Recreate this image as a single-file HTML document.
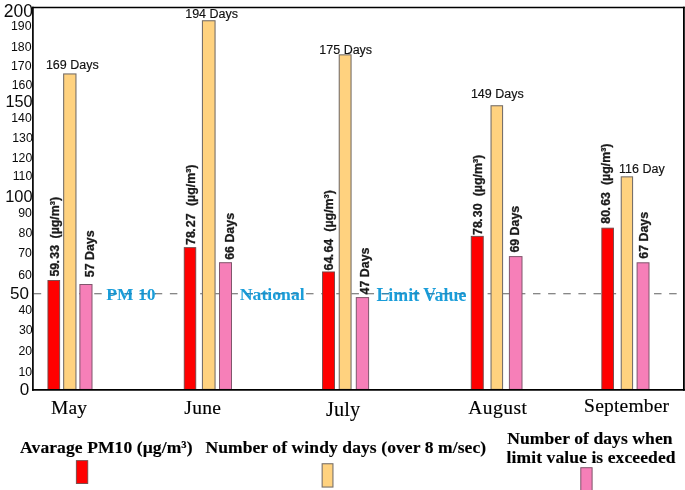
<!DOCTYPE html>
<html><head><meta charset="utf-8"><title>PM10 chart</title>
<style>html,body{margin:0;padding:0;background:#fff;overflow:hidden}svg{display:block;will-change:transform}text{font-family:"Liberation Sans", sans-serif;fill:#1a1a1a}.s{font-family:"Liberation Serif", serif}.k{fill:#0a0a0a}.t{fill:#111;stroke:#111;stroke-width:0.15px}.m{fill:#000;stroke:#000;stroke-width:0.15px}.b{font-weight:bold}.h{stroke:#1a1a1a;stroke-width:0.3px}</style></head><body>
<svg width="685" height="490" viewBox="0 0 685 490">
<rect x="0" y="0" width="685" height="490" fill="#ffffff"/>
<line x1="33.7" y1="293.75" x2="683" y2="293.75" stroke="#606060" stroke-width="1.2" stroke-dasharray="7.5 7.63"/>
<rect x="47.95" y="280.55" width="11.70" height="108.85" fill="#ff0000" stroke="#704848" stroke-width="0.90"/>
<rect x="63.65" y="73.95" width="12.30" height="315.45" fill="#ffd27f" stroke="#78706a" stroke-width="1.10"/>
<rect x="79.90" y="284.50" width="12.10" height="104.90" fill="#f67fb8" stroke="#80566c" stroke-width="1.00"/>
<rect x="184.25" y="247.65" width="11.50" height="141.75" fill="#ff0000" stroke="#704848" stroke-width="0.90"/>
<rect x="202.45" y="20.75" width="12.60" height="368.65" fill="#ffd27f" stroke="#78706a" stroke-width="1.10"/>
<rect x="219.50" y="262.70" width="12.00" height="126.70" fill="#f67fb8" stroke="#80566c" stroke-width="1.00"/>
<rect x="322.55" y="271.95" width="12.00" height="117.45" fill="#ff0000" stroke="#704848" stroke-width="0.90"/>
<rect x="339.25" y="54.85" width="11.80" height="334.55" fill="#ffd27f" stroke="#78706a" stroke-width="1.10"/>
<rect x="356.30" y="297.60" width="12.30" height="91.80" fill="#f67fb8" stroke="#80566c" stroke-width="1.00"/>
<rect x="471.25" y="236.35" width="12.00" height="153.05" fill="#ff0000" stroke="#704848" stroke-width="0.90"/>
<rect x="491.05" y="105.75" width="11.50" height="283.65" fill="#ffd27f" stroke="#78706a" stroke-width="1.10"/>
<rect x="509.40" y="256.60" width="12.60" height="132.80" fill="#f67fb8" stroke="#80566c" stroke-width="1.00"/>
<rect x="601.85" y="228.15" width="11.60" height="161.25" fill="#ff0000" stroke="#704848" stroke-width="0.90"/>
<rect x="621.25" y="176.85" width="11.30" height="212.55" fill="#ffd27f" stroke="#78706a" stroke-width="1.10"/>
<rect x="637.10" y="262.80" width="11.90" height="126.60" fill="#f67fb8" stroke="#80566c" stroke-width="1.00"/>
<path d="M32.9 6.85 V390.8" fill="none" stroke="#000" stroke-width="1.7"/>
<path d="M32.05 7.55 H684.8" fill="none" stroke="#000" stroke-width="1.4"/>
<path d="M683.9 6.85 V390.8" fill="none" stroke="#000" stroke-width="1.8"/>
<path d="M32.05 389.9 H684.8" fill="none" stroke="#000" stroke-width="1.8"/>
<text x="33.0" y="16.9" font-size="17.5" text-anchor="end" class="k">200</text>
<text x="32.6" y="107.1" font-size="16.3" text-anchor="end" class="k">150</text>
<text x="32.6" y="201.8" font-size="16.4" text-anchor="end" class="k">100</text>
<text x="28.9" y="298.9" font-size="17.0" text-anchor="end" class="k">50</text>
<text x="29.2" y="394.9" font-size="17.0" text-anchor="end" class="k">0</text>
<text x="31.5" y="30.4" font-size="12.3" text-anchor="end" class="k">190</text>
<text x="31.5" y="50.7" font-size="12.3" text-anchor="end" class="k">180</text>
<text x="31.5" y="69.9" font-size="12.3" text-anchor="end" class="k">170</text>
<text x="32.3" y="89.3" font-size="12.3" text-anchor="end" class="k">160</text>
<text x="31.8" y="122.0" font-size="12.3" text-anchor="end" class="k">140</text>
<text x="32.8" y="141.9" font-size="12.3" text-anchor="end" class="k">130</text>
<text x="32.3" y="161.9" font-size="12.3" text-anchor="end" class="k">120</text>
<text x="32.3" y="180.4" font-size="12.3" text-anchor="end" class="k">110</text>
<text x="31.9" y="217.4" font-size="12.3" text-anchor="end" class="k">90</text>
<text x="32.3" y="237.2" font-size="12.3" text-anchor="end" class="k">80</text>
<text x="31.9" y="257.2" font-size="12.3" text-anchor="end" class="k">70</text>
<text x="31.9" y="278.7" font-size="12.3" text-anchor="end" class="k">60</text>
<text x="32.1" y="314.3" font-size="12.3" text-anchor="end" class="k">40</text>
<text x="32.7" y="334.3" font-size="12.3" text-anchor="end" class="k">30</text>
<text x="32.1" y="354.8" font-size="12.3" text-anchor="end" class="k">20</text>
<text x="32.1" y="375.5" font-size="12.3" text-anchor="end" class="k">10</text>
<text x="45.9" y="68.8" font-size="12.5" class="t">169 Days</text>
<text x="185.2" y="17.8" font-size="12.5" class="t">194 Days</text>
<text x="319.3" y="53.8" font-size="12.5" class="t">175 Days</text>
<text x="470.9" y="98.1" font-size="12.5" class="t">149 Days</text>
<text x="619.1" y="172.8" font-size="12.5" class="t">116 Day</text>
<text transform="translate(59.4 276.6) rotate(-90) scale(1.000 1)" font-size="12.4" class="b h">59<tspan dx="-0.6">.</tspan><tspan dx="1.2">33</tspan></text>
<text transform="translate(59.4 238.5) rotate(-90) scale(1.000 1)" font-size="12.4" class="b h">(µg/m³)</text>
<text transform="translate(194.8 245.0) rotate(-90) scale(1.000 1)" font-size="12.4" class="b h">78<tspan dx="-0.6">.</tspan><tspan dx="1.2">27</tspan></text>
<text transform="translate(194.8 206.1) rotate(-90) scale(1.000 1)" font-size="12.4" class="b h">(µg/m³)</text>
<text transform="translate(333.2 270.4) rotate(-90) scale(1.000 1)" font-size="12.4" class="b h">64<tspan dx="-0.6">.</tspan><tspan dx="1.2">64</tspan></text>
<text transform="translate(333.2 231.7) rotate(-90) scale(1.000 1)" font-size="12.4" class="b h">(µg/m³)</text>
<text transform="translate(482.0 235.0) rotate(-90) scale(1.000 1)" font-size="12.4" class="b h">78<tspan dx="-0.6">.</tspan><tspan dx="1.2">30</tspan></text>
<text transform="translate(482.0 196.3) rotate(-90) scale(1.000 1)" font-size="12.4" class="b h">(µg/m³)</text>
<text transform="translate(610.4 223.7) rotate(-90) scale(1.000 1)" font-size="12.4" class="b h">80<tspan dx="-0.6">.</tspan><tspan dx="1.2">63</tspan></text>
<text transform="translate(610.4 185.1) rotate(-90) scale(1.000 1)" font-size="12.4" class="b h">(µg/m³)</text>
<text transform="translate(94.0 277.2) rotate(-90) scale(1.000 1)" font-size="12.4" class="b h">57 Days</text>
<text transform="translate(233.8 259.8) rotate(-90) scale(1.000 1)" font-size="12.4" class="b h">66 Days</text>
<text transform="translate(369.3 294.4) rotate(-90) scale(1.000 1)" font-size="12.4" class="b h">47 Days</text>
<text transform="translate(519.2 252.6) rotate(-90) scale(1.000 1)" font-size="12.4" class="b h">69 Days</text>
<text transform="translate(647.9 258.7) rotate(-90) scale(1.000 1)" font-size="12.4" class="b h">67 Days</text>
<clipPath id="bc"><rect x="106" y="290" width="50" height="8"/><rect x="240" y="290" width="64" height="8"/><rect x="376" y="290" width="90" height="8"/></clipPath>
<text x="106.3" y="300.2" font-size="17.5" class="s b" style="fill:#1a9dd9">PM 10</text>
<text x="239.8" y="300.1" font-size="17.7" class="s b" style="fill:#1a9dd9">National</text>
<text x="376.4" y="300.6" font-size="17.9" class="s b" style="fill:#1a9dd9">Limit Value</text>
<line x1="33.7" y1="293.75" x2="683" y2="293.75" stroke="#1689c4" stroke-width="1.2" stroke-dasharray="7.5 7.63" clip-path="url(#bc)"/>
<text x="51.0" y="414.2" font-size="19.5" letter-spacing="0.10" class="s m">May</text>
<text x="184.3" y="414.0" font-size="19.5" letter-spacing="0.30" class="s m">June</text>
<text x="326.0" y="416.3" font-size="20.3" letter-spacing="0.10" class="s m">July</text>
<text x="468.3" y="414.0" font-size="19.5" letter-spacing="0.45" class="s m">August</text>
<text x="584.1" y="412.2" font-size="19.5" letter-spacing="0.20" class="s m">September</text>
<text x="20.1" y="452.8" font-size="17.5" letter-spacing="0.1" class="s b m">Avarage PM10 (µg/m³)</text>
<text x="205.4" y="452.8" font-size="17.5" letter-spacing="0.1" class="s b m">Number of windy days (over 8 m/sec)</text>
<text x="507.2" y="443.8" font-size="17.5" letter-spacing="0.1" class="s b m">Number of days when</text>
<text x="506.6" y="462.6" font-size="17.5" letter-spacing="0.1" class="s b m">limit value is exceeded</text>
<rect x="76.35" y="460.65" width="11.40" height="22.80" fill="#ff0000" stroke="#704848" stroke-width="0.90"/>
<rect x="322.15" y="463.75" width="10.80" height="23.30" fill="#ffd27f" stroke="#78706a" stroke-width="1.10"/>
<rect x="580.80" y="467.70" width="11.30" height="24.80" fill="#f67fb8" stroke="#80566c" stroke-width="1.00"/>
</svg></body></html>
